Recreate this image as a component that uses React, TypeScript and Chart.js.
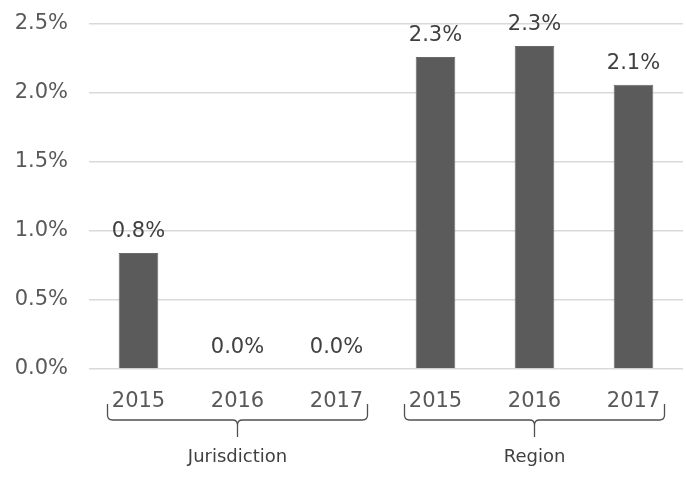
import React, { useEffect, useRef } from "react";
import { Chart, registerables } from "chart.js";

Chart.register(...registerables);

const categories = ["2015", "2016", "2017", "2015", "2016", "2017"];
const values = [0.84, 0, 0, 2.26, 2.34, 2.06];
const groups = ["Jurisdiction", "Region"];
const groupSpans = [
  [0, 2],
  [3, 5],
];
const yTicks = [0, 0.5, 1, 1.5, 2, 2.5];

const FONT = "'DejaVu Sans', sans-serif";

export default function App() {
  const ref = useRef<HTMLCanvasElement | null>(null);

  useEffect(() => {
    const canvas = ref.current;
    if (!canvas) return;

    const labelPlugin = {
      id: "labels",
      afterDatasetsDraw(chart: any) {
        const ctx = chart.ctx;
        const meta = chart.getDatasetMeta(0);
        ctx.save();
        ctx.font = `21px ${FONT}`;
        ctx.fillStyle = "#404040";
        ctx.textAlign = "center";
        ctx.textBaseline = "alphabetic";
        meta.data.forEach((bar: any, i: number) => {
          ctx.fillText(values[i].toFixed(1) + "%", bar.x, bar.y - 16);
        });
        ctx.restore();
      },
      afterDraw(chart: any) {
        const ctx = chart.ctx;
        const xs = chart.scales.x;
        ctx.save();
        groupSpans.forEach((span, gi) => {
          const a = xs.getPixelForValue(span[0]);
          const b = xs.getPixelForValue(span[1]);
          const cx = (a + b) / 2;
          const x1 = cx - 130;
          const x2 = cx + 130;
          const yTop = 404;
          const yMid = 420;
          const yTip = 437;
          const r = 5;
          ctx.strokeStyle = "#505050";
          ctx.lineWidth = 1.3;
          ctx.beginPath();
          ctx.moveTo(x1, yTop);
          ctx.lineTo(x1, yMid - r);
          ctx.quadraticCurveTo(x1, yMid, x1 + r, yMid);
          ctx.lineTo(cx - r, yMid);
          ctx.quadraticCurveTo(cx, yMid, cx, yMid + r);
          ctx.lineTo(cx, yTip);
          ctx.moveTo(cx, yMid + r);
          ctx.quadraticCurveTo(cx, yMid, cx + r, yMid);
          ctx.lineTo(x2 - r, yMid);
          ctx.quadraticCurveTo(x2, yMid, x2, yMid - r);
          ctx.lineTo(x2, yTop);
          ctx.stroke();
          ctx.font = `18px ${FONT}`;
          ctx.fillStyle = "#404040";
          ctx.textAlign = "center";
          ctx.textBaseline = "alphabetic";
          ctx.fillText(groups[gi], cx, 462);
        });
        ctx.restore();
      },
    };

    const chart = new Chart(canvas, {
      type: "bar",
      data: {
        labels: categories,
        datasets: [
          {
            data: values,
            backgroundColor: "#5b5b5b",
            borderColor: "#6a6a6a",
            borderWidth: 1,
            barPercentage: 1,
            categoryPercentage: 0.4,
          },
        ],
      },
      options: {
        animation: false,
        responsive: false,
        devicePixelRatio: 1,
        layout: { padding: { top: 24, right: 3, bottom: 0, left: 0 } },
        plugins: {
          legend: { display: false },
          tooltip: { enabled: false },
        },
        scales: {
          x: {
            grid: { display: false },
            border: { display: false },
            ticks: {
              font: { family: FONT, size: 21 },
              color: "#595959",
              padding: 12,
              maxRotation: 0,
            },
            afterFit(scale: any) {
              scale.height = 108;
              scale.paddingLeft = 0;
              scale.paddingRight = 0;
            },
          },
          y: {
            min: 0,
            max: 2.5,
            afterBuildTicks(scale: any) {
              scale.ticks = yTicks.map((v) => ({ value: v }));
            },
            ticks: {
              font: { family: FONT, size: 21 },
              color: "#595959",
              padding: 21,
              callback: (v: any) => Number(v).toFixed(1) + "%",
            },
            grid: { color: "#d9d9d9", lineWidth: 1.5, drawTicks: false },
            border: { display: false },
            afterFit(scale: any) {
              scale.width = 89;
              scale.paddingTop = 0;
              scale.paddingBottom = 0;
            },
          },
        },
      },
      plugins: [labelPlugin],
    });

    return () => chart.destroy();
  }, []);

  return (
    <div style={{ position: "absolute", left: 0, top: 0, width: 686, height: 477, background: "#fff" }}>
      <canvas ref={ref} width={686} height={477} style={{ display: "block" }} />
    </div>
  );
}
